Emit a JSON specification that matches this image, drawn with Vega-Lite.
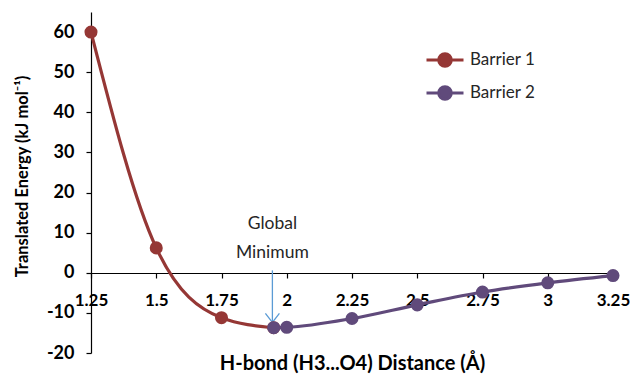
{
  "$schema": "https://vega.github.io/schema/vega-lite/v6.json",
  "autosize": {"type": "none"},
  "padding": {"left": 91, "top": 12, "right": 17, "bottom": 22},
  "width": 522,
  "height": 341,
  "background": "white",
  "config": {
    "view": {"stroke": null},
    "font": "Lato",
    "axis": {
      "domainColor": "#000000",
      "domainWidth": 1.2,
      "tickColor": "#000000",
      "tickWidth": 1.2,
      "tickSize": 5,
      "grid": false,
      "labelFont": "Lato",
      "labelFontWeight": "bold",
      "labelFontSize": 17,
      "labelColor": "#000000",
      "titleFont": "Lato",
      "titleFontWeight": "bold",
      "titleColor": "#000000"
    }
  },
  "datasets": {
    "energy": [
      {"series": "Barrier 1", "distance": 1.25, "energy": 60.0},
      {"series": "Barrier 1", "distance": 1.5, "energy": 6.2},
      {"series": "Barrier 1", "distance": 1.75, "energy": -11.2},
      {"series": "Barrier 1", "distance": 1.95, "energy": -13.7},
      {"series": "Barrier 2", "distance": 1.95, "energy": -13.7},
      {"series": "Barrier 2", "distance": 2.0, "energy": -13.6},
      {"series": "Barrier 2", "distance": 2.25, "energy": -11.4},
      {"series": "Barrier 2", "distance": 2.5, "energy": -8.0},
      {"series": "Barrier 2", "distance": 2.75, "energy": -4.8},
      {"series": "Barrier 2", "distance": 3.0, "energy": -2.5},
      {"series": "Barrier 2", "distance": 3.25, "energy": -0.7}
    ],
    "note": [
      {"label": "Global\nMinimum", "distance": 1.945, "top": 12.2, "start": 0.6, "tip": -12.4}
    ]
  },
  "layer": [
    {
      "data": {"name": "note"},
      "mark": {"type": "text", "font": "Lato", "fontSize": 17.5, "color": "#262626", "lineBreak": "\n", "lineHeight": 29, "align": "center", "baseline": "middle"},
      "encoding": {
        "x": {"field": "distance", "type": "quantitative"},
        "y": {"field": "top", "type": "quantitative"},
        "text": {"field": "label"}
      }
    },
    {
      "data": {"name": "note"},
      "mark": {"type": "rule", "color": "#5B9BD5", "strokeWidth": 1.3},
      "encoding": {
        "x": {"field": "distance", "type": "quantitative"},
        "y": {"field": "start", "type": "quantitative"},
        "y2": {"field": "tip"}
      }
    },
    {
      "data": {"name": "note"},
      "mark": {"type": "point", "shape": "M-1,-1.3L0,0L1,-1.3", "filled": false, "color": "#5B9BD5", "strokeWidth": 1.3, "size": 196, "opacity": 1},
      "encoding": {
        "x": {"field": "distance", "type": "quantitative"},
        "y": {"field": "tip", "type": "quantitative"}
      }
    },
    {
      "data": {"name": "energy"},
      "mark": {"type": "line", "interpolate": "monotone", "strokeWidth": 3.2},
      "encoding": {
        "x": {
          "field": "distance", "type": "quantitative",
          "scale": {"domain": [1.25, 3.25], "nice": false, "zero": false},
          "axis": {
            "title": "H-bond (H3...O4) Distance (Å)",
            "titleFontSize": 20,
            "values": [1.25, 1.5, 1.75, 2, 2.25, 2.5, 2.75, 3, 3.25],
            "format": ".2~f",
            "offset": -80,
            "labelPadding": 14,
            "labelFlush": false,
            "labelOverlap": false,
            "titleY": 90,
            "titleBaseline": "middle"
          }
        },
        "y": {
          "field": "energy", "type": "quantitative",
          "scale": {"domain": [-20, 65], "nice": false},
          "axis": {
            "title": "Translated Energy (kJ mol⁻¹)",
            "titleFontSize": 16.5,
            "titleX": -69,
            "titleY": 164,
            "titleAlign": "center",
            "titleBaseline": "middle",
            "labelFontSize": 18,
            "values": [-20, -10, 0, 10, 20, 30, 40, 50, 60],
            "labelExpr": "replace(datum.label, '−', '-')",
            "labelPadding": 12
          }
        },
        "color": {
          "field": "series", "type": "nominal",
          "scale": {"domain": ["Barrier 1", "Barrier 2"], "range": ["#953735", "#604A7B"]},
          "legend": {
            "title": null,
            "orient": "none",
            "legendX": 334,
            "legendY": 28,
            "symbolType": "M-1,0L-0.34,0M0.34,0L1,0M-0.34,0A0.34,0.34 0 1,1 0.34,0A0.34,0.34 0 1,1 -0.34,0Z",
            "symbolSize": 1369,
            "symbolStrokeWidth": 3,
            "labelFont": "Lato",
            "labelFontSize": 17,
            "labelColor": "#262626",
            "labelOffset": 5,
            "rowPadding": -5,
            "encode": {
              "symbols": {
                "update": {
                  "fill": {"scale": "color", "field": "value"},
                  "stroke": {"scale": "color", "field": "value"},
                  "strokeWidth": {"value": 3},
                  "opacity": {"value": 1}
                }
              }
            }
          }
        }
      }
    },
    {
      "data": {"name": "energy"},
      "mark": {"type": "point", "filled": true, "size": 170, "opacity": 1},
      "encoding": {
        "x": {"field": "distance", "type": "quantitative"},
        "y": {"field": "energy", "type": "quantitative"},
        "color": {
          "field": "series", "type": "nominal",
          "legend": {
            "title": null,
            "orient": "none",
            "legendX": 334,
            "legendY": 28,
            "symbolType": "M-1,0L-0.34,0M0.34,0L1,0M-0.34,0A0.34,0.34 0 1,1 0.34,0A0.34,0.34 0 1,1 -0.34,0Z",
            "symbolSize": 1369,
            "symbolStrokeWidth": 3,
            "labelFont": "Lato",
            "labelFontSize": 17,
            "labelColor": "#262626",
            "labelOffset": 5,
            "rowPadding": -5,
            "encode": {
              "symbols": {
                "update": {
                  "fill": {"scale": "color", "field": "value"},
                  "stroke": {"scale": "color", "field": "value"},
                  "strokeWidth": {"value": 3},
                  "opacity": {"value": 1}
                }
              }
            }
          }
        }
      }
    }
  ]
}
